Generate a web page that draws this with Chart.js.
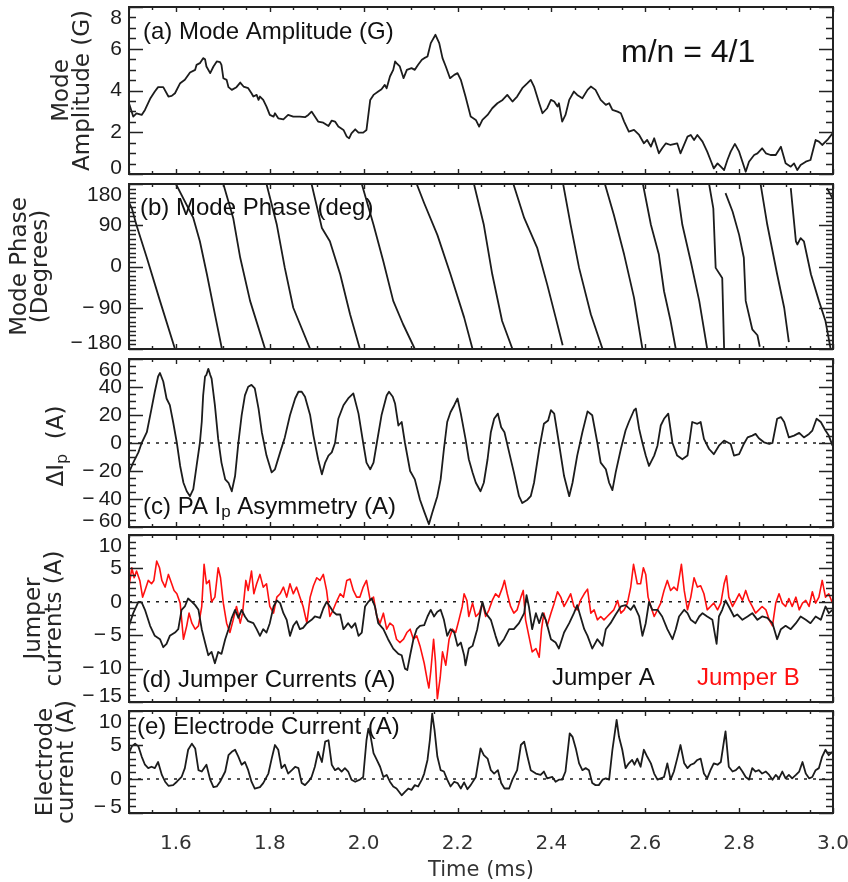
<!DOCTYPE html>
<html>
<head>
<meta charset="utf-8">
<script src="https://cdn.jsdelivr.net/npm/chart.js@4.4.1/dist/chart.umd.min.js"></script>
<style>
  html, body { margin: 0; padding: 0; background: #fff; }
  #wrap { width: 848px; height: 882px; }
</style>
</head>
<body>
<div id="wrap"><canvas id="chart" width="848" height="882"></canvas></div>
<script>
// ---- data (time in ms) ----
const timeMin = 1.5, timeMax = 3.0;
const xTicks = [1.6, 1.8, 2.0, 2.2, 2.4, 2.6, 2.8, 3.0];

// (a) mode amplitude, G
const ampTicks = [0, 2, 4, 6, 8];
const ampTime = [
  1.500,1.509,1.516,1.527,1.534,1.545,1.555,1.562,1.573,1.584,
  1.591,1.598,1.609,1.619,1.630,1.641,1.644,1.651,1.658,1.662,
  1.665,1.673,1.680,1.687,1.694,1.697,1.701,1.708,1.712,1.719,
  1.729,1.737,1.744,1.754,1.761,1.765,1.772,1.776,1.779,1.786,
  1.793,1.800,1.808,1.811,1.818,1.829,1.839,1.850,1.864,1.875,
  1.882,1.889,1.896,1.903,1.914,1.925,1.932,1.939,1.946,1.957,
  1.964,1.969,1.974,1.982,1.989,1.999,2.006,2.014,2.021,2.031,
  2.038,2.045,2.049,2.056,2.063,2.067,2.070,2.077,2.085,2.092,
  2.102,2.109,2.116,2.124,2.129,2.136,2.143,2.153,2.161,2.168,
  2.175,2.184,2.193,2.200,2.207,2.217,2.228,2.239,2.246,2.253,
  2.264,2.274,2.285,2.296,2.306,2.317,2.327,2.338,2.349,2.356,
  2.363,2.374,2.381,2.391,2.399,2.406,2.413,2.416,2.423,2.430,
  2.438,2.448,2.455,2.466,2.477,2.484,2.494,2.505,2.516,2.523,
  2.530,2.541,2.548,2.555,2.565,2.576,2.587,2.597,2.604,2.612,
  2.619,2.629,2.636,2.644,2.654,2.668,2.675,2.690,2.697,2.704,
  2.711,2.722,2.732,2.739,2.746,2.754,2.761,2.768,2.775,2.782,
  2.791,2.800,2.807,2.814,2.821,2.832,2.839,2.849,2.857,2.867,
  2.878,2.889,2.899,2.910,2.917,2.924,2.931,2.942,2.952,2.963,
  2.970,2.977,2.988,2.999];
const ampGauss = [
  3.39,2.75,2.90,2.83,3.07,3.60,3.95,4.16,4.16,3.71,
  3.74,3.87,4.35,4.51,4.86,4.99,5.23,5.31,5.55,5.50,
  5.15,4.83,5.15,5.39,5.36,5.23,4.59,4.51,4.16,4.03,
  4.16,4.38,4.19,4.11,3.87,3.71,3.79,3.55,3.71,3.55,
  3.23,2.83,2.75,2.91,2.67,2.62,2.83,2.75,2.75,2.72,
  2.83,2.99,2.75,2.51,2.46,2.30,2.56,2.51,2.27,2.11,
  1.79,1.71,1.95,2.14,1.98,1.98,2.11,3.55,3.79,3.95,
  4.06,4.27,4.11,4.67,4.99,5.39,5.31,5.15,4.59,4.99,
  5.07,4.99,5.23,5.47,5.55,5.63,6.27,6.67,6.27,5.55,
  5.15,4.59,4.75,4.83,4.51,3.71,2.75,2.59,2.27,2.59,
  2.83,3.15,3.39,3.55,3.79,3.47,3.71,4.11,4.35,4.51,
  4.19,3.39,2.91,3.15,3.55,3.47,3.23,3.39,2.51,2.83,
  3.55,3.95,3.79,3.63,4.03,4.19,4.03,3.55,3.31,3.39,
  3.07,2.99,2.91,2.51,2.03,2.11,1.87,1.47,1.63,1.31,
  1.71,0.99,1.23,1.47,1.39,1.47,0.99,1.79,1.87,1.63,
  1.87,1.55,1.07,0.67,0.27,0.51,0.35,0.19,0.67,1.07,
  1.44,1.07,0.59,0.11,0.59,0.91,0.99,1.23,0.99,0.91,
  0.91,1.31,0.51,0.35,0.51,0.19,0.43,0.59,0.67,1.63,
  1.55,1.39,1.63,1.95];

// (b) mode phase, degrees (null = wrap from -180 back to +180)
const phaseTicks = [-180, -90, 0, 90, 180];
const phaseTime = [
  1.500,1.506,1.516,1.538,1.566,1.598, 1.599,
  1.600,1.637,1.651,1.666,1.683,1.698, 1.700,
  1.701,1.722,1.737,1.758,1.790, 1.791,
  1.793,1.815,1.832,1.850,1.886, 1.887,
  1.889,1.911,1.928,1.950,1.971,1.992, 1.994,
  1.996,2.021,2.042,2.063,2.084,2.109, 2.111,
  2.113,2.129,2.157,2.185,2.214,2.232, 2.233,
  2.235,2.256,2.274,2.295,2.317, 2.318,
  2.319,2.342,2.370,2.391,2.409,2.424, 2.4245,
  2.425,2.441,2.459,2.484,2.509, 2.511,
  2.514,2.533,2.555,2.576,2.594, 2.5945,
  2.595,2.612,2.629,2.640,2.654,2.665, 2.666,
  2.668,2.679,2.697,2.715,2.732, 2.734,
  2.736,2.745,2.750,2.764,2.768, 2.769,
  2.771,2.786,2.800,2.810,2.814,2.828,2.839,2.844, 2.845,
  2.846,2.860,2.881,2.896,2.906, 2.908,
  2.910,2.921,2.924,2.931,2.938,2.953,2.970,2.984,2.995, 2.996,
  2.987,2.999];
const phaseDeg = [
  140,127,90,19,-75,-180, null,
  180,106,55,-17,-104,-180, null,
  180,106,19,-75,-180, null,
  180,91,-3,-90,-180, null,
  180,84,55,-17,-104,-180, null,
  180,91,11,-75,-126,-180, null,
  180,138,69,-17,-111,-180, null,
  180,91,-17,-119,-180, null,
  180,106,40,-39,-111,-172, null,
  180,91,-3,-104,-180, null,
  180,113,26,-68,-180, null,
  180,91,26,-54,-119,-180, null,
  170,91,11,-75,-180, null,
  180,127,-3,-25,-180, null,
  160,120,69,19,-75,-137,-150,-175, null,
  178,91,-17,-90,-165, null,
  171,55,48,62,55,-17,-75,-119,-180, null,
  171,149];

// (c) PA Ip asymmetry, A
const ipTicks = [-60, -40, -20, 0, 20, 40, 60];
const ipTime = [
  1.500,1.509,1.520,1.527,1.538,1.548,1.555,1.562,1.566,1.573,
  1.580,1.587,1.594,1.602,1.609,1.616,1.623,1.630,1.637,1.644,
  1.651,1.655,1.658,1.662,1.665,1.669,1.673,1.676,1.683,1.690,
  1.697,1.705,1.712,1.719,1.726,1.733,1.740,1.747,1.754,1.761,
  1.768,1.776,1.783,1.793,1.804,1.811,1.822,1.832,1.843,1.854,
  1.861,1.868,1.875,1.886,1.893,1.903,1.911,1.918,1.925,1.932,
  1.939,1.946,1.957,1.967,1.978,1.989,1.999,2.006,2.014,2.021,
  2.028,2.038,2.049,2.054,2.062,2.067,2.074,2.081,2.088,2.099,
  2.109,2.120,2.129,2.139,2.146,2.157,2.164,2.171,2.178,2.185,
  2.193,2.200,2.207,2.217,2.224,2.232,2.239,2.249,2.256,2.264,
  2.271,2.278,2.286,2.293,2.300,2.310,2.320,2.331,2.338,2.349,
  2.356,2.363,2.374,2.384,2.393,2.399,2.406,2.416,2.427,2.438,
  2.445,2.455,2.466,2.477,2.487,2.498,2.505,2.516,2.523,2.530,
  2.537,2.548,2.558,2.565,2.576,2.580,2.587,2.594,2.601,2.608,
  2.619,2.626,2.633,2.640,2.649,2.658,2.668,2.679,2.690,2.700,
  2.711,2.718,2.725,2.736,2.746,2.757,2.768,2.775,2.782,2.789,
  2.800,2.810,2.818,2.828,2.835,2.842,2.853,2.864,2.871,2.881,
  2.889,2.896,2.906,2.917,2.928,2.938,2.949,2.956,2.965,2.974,
  2.984,2.991,2.999];
const ipAmps = [
  -21,-14,-6.7,0,7.7,24.6,36.6,47.5,50,43.9,
  31.8,27,15,0,-16.4,-28.4,-34.5,-38,-33,-16.4,
  0,15,34,47.5,48.7,53,48.7,46,27,2.9,
  -14,-26,-28.4,-34.5,-23.6,0,19.8,34,40.2,41.5,
  39,24.6,7.7,-9,-21,-18.8,-6.7,4,19.8,31.8,
  36.6,36.6,33,19.8,5.3,-11.6,-22.4,-14,-9,-6.7,
  0,17.3,27,31.8,35.4,21,0,-14,-18.8,-14,
  0,19.8,34,36.6,33,28,12.5,15,0,-20,
  -26,-40.5,-49,-58,-50,-38,-26,-4.3,15,22,
  27,31.8,21,2.9,-11.6,-21,-28.4,-34.5,-28.4,-11.6,
  7.7,17.3,21,11.3,7.7,-6.7,-21,-38,-42.9,-40.5,
  -38,-28.4,-4.3,13.7,16.1,23.4,21,0,-23.6,-38,
  -28.4,-9,7.7,22.6,19.8,0,-14,-18.8,-28.4,-33.7,
  -21,-4.3,8.9,15,23.4,24.6,10,0,-9,-16.4,
  -9,-1.9,12.5,17.3,21,0,-9,-11.6,-9,15,
  13.7,15,2.9,-4.3,-8,-1.9,1.7,0.5,-0.7,-9,
  -8,-0.7,4,5.3,6.5,3.4,0.5,-0.7,0,17.3,
  18.5,15,4,5.3,7.2,4,6.5,8.9,17.3,15,
  8.9,5.3,-1.9];

// (d) jumper currents, A
const jumperTicks = [-15, -10, -5, 0, 5, 10];
const jumperATime = [
  1.500,1.509,1.520,1.527,1.534,1.545,1.555,1.566,1.573,1.580,
  1.587,1.598,1.605,1.612,1.619,1.626,1.634,1.641,1.648,1.655,
  1.662,1.669,1.676,1.683,1.690,1.697,1.705,1.712,1.719,1.726,
  1.733,1.740,1.747,1.754,1.765,1.772,1.779,1.786,1.793,1.800,
  1.808,1.815,1.822,1.829,1.836,1.843,1.850,1.857,1.864,1.871,
  1.879,1.889,1.896,1.907,1.914,1.921,1.928,1.935,1.942,1.950,
  1.957,1.967,1.974,1.982,1.989,1.996,2.003,2.010,2.017,2.024,
  2.031,2.042,2.052,2.063,2.074,2.081,2.088,2.093,2.099,2.106,
  2.113,2.120,2.129,2.136,2.143,2.150,2.157,2.164,2.171,2.178,
  2.185,2.193,2.200,2.207,2.214,2.217,2.224,2.232,2.242,2.253,
  2.260,2.271,2.281,2.288,2.299,2.310,2.320,2.331,2.342,2.347,
  2.352,2.359,2.367,2.374,2.381,2.388,2.399,2.409,2.416,2.427,
  2.438,2.448,2.455,2.462,2.470,2.477,2.487,2.498,2.509,2.516,
  2.526,2.537,2.548,2.558,2.569,2.576,2.587,2.594,2.601,2.608,
  2.615,2.626,2.636,2.647,2.658,2.665,2.672,2.683,2.690,2.697,
  2.707,2.715,2.722,2.732,2.743,2.752,2.757,2.764,2.771,2.778,
  2.789,2.796,2.807,2.818,2.828,2.839,2.849,2.860,2.871,2.881,
  2.889,2.899,2.910,2.921,2.931,2.942,2.952,2.963,2.974,2.984,
  2.991,2.999];
const jumperA = [
  -3.6,-1.7,0,-0.1,-1.2,-3.6,-5.1,-5.6,-6.8,-6.3,
  -5.1,-4.6,-4.1,-1.2,-0.7,0.5,0,-0.5,-1.2,-4.1,
  -6.1,-8,-7.5,-9.2,-7.5,-7.8,-5.6,-4.1,-2.4,-1.2,
  -2.4,-1.2,-2.2,-2.9,-3.2,-4.1,-5.1,-4.1,-4.6,-3.2,
  -0.7,0.2,-0.2,-1.7,-2.7,-5.1,-3.6,-2.9,-4.1,-3.9,
  -3.2,-2.7,-2.2,-2.4,-1.0,0,-0.7,-1.5,-1.9,-1.9,
  -4.1,-3.2,-3.9,-3.2,-5.1,-4.6,-0.7,0,0.5,-0.7,
  -3.2,-4.1,-5.6,-7,-7.8,-8,-10,-10.2,-8,-5.6,
  -4.1,-3.6,-3.5,-2.2,-1.2,-2.2,-1.5,-1.2,-2.7,-5.1,
  -4.1,-4.6,-6.6,-6.1,-8,-9.5,-7,-6.6,-4.1,0,
  -1.7,-2.7,-5.1,-6.6,-5.6,-4.1,-4.1,-3.2,-1.7,1,
  -0.7,-4.1,-1.7,-3.2,-1.7,-2.7,-5.6,-6.1,-7,-4.6,
  -3.2,-1.7,-0.5,-2.2,-4.1,-5.1,-7,-5.6,-6.6,-4.1,
  -3.2,-1.9,-0.7,-0.5,-1.2,-0.5,-2.2,-5.1,-3.2,0,
  -1.2,-1.2,-2.2,-4.1,-5.6,-4.1,-2.2,-1.2,-1.7,-2.7,
  -3.2,-2.2,-1.7,-2.2,-2.7,-6.3,-2.2,-1.2,0.2,-0.7,
  -2.2,-1.9,-2.7,-2.2,-1.7,-2.7,-2.2,-2.4,-3.2,-5.6,
  -4.1,-3.6,-4.1,-3.2,-2.2,-2.7,-3.2,-2.2,-2.7,-0.7,
  -1.7,-1.2];
const jumperBTime = [
  1.500,1.506,1.511,1.516,1.523,1.529,1.534,1.541,1.548,1.553,
  1.559,1.565,1.570,1.577,1.584,1.591,1.596,1.602,1.609,1.616,
  1.623,1.628,1.634,1.641,1.648,1.655,1.660,1.665,1.671,1.676,
  1.683,1.690,1.695,1.701,1.708,1.715,1.722,1.729,1.737,1.742,
  1.749,1.754,1.761,1.766,1.772,1.779,1.786,1.793,1.800,1.808,
  1.815,1.822,1.829,1.836,1.843,1.850,1.857,1.864,1.871,1.879,
  1.886,1.893,1.900,1.907,1.914,1.921,1.928,1.935,1.942,1.950,
  1.957,1.964,1.971,1.978,1.985,1.992,1.999,2.006,2.014,2.021,
  2.028,2.035,2.042,2.049,2.056,2.063,2.070,2.077,2.085,2.092,
  2.099,2.106,2.113,2.120,2.129,2.136,2.139,2.143,2.149,2.153,
  2.157,2.163,2.168,2.175,2.182,2.189,2.196,2.203,2.210,2.214,
  2.220,2.224,2.232,2.239,2.246,2.253,2.260,2.267,2.274,2.281,
  2.288,2.296,2.300,2.306,2.313,2.320,2.327,2.335,2.340,2.345,
  2.352,2.359,2.367,2.374,2.379,2.384,2.391,2.399,2.406,2.413,
  2.420,2.427,2.434,2.441,2.448,2.455,2.462,2.470,2.477,2.484,
  2.491,2.498,2.505,2.512,2.519,2.526,2.533,2.541,2.548,2.555,
  2.562,2.569,2.575,2.583,2.590,2.596,2.601,2.606,2.612,2.619,
  2.626,2.633,2.640,2.647,2.654,2.661,2.668,2.677,2.683,2.690,
  2.697,2.704,2.711,2.718,2.725,2.732,2.739,2.746,2.754,2.761,
  2.768,2.773,2.778,2.786,2.793,2.800,2.807,2.814,2.821,2.828,
  2.835,2.842,2.849,2.857,2.864,2.871,2.878,2.885,2.892,2.899,
  2.906,2.913,2.921,2.928,2.935,2.942,2.949,2.956,2.963,2.970,
  2.977,2.984,2.991,2.999];
const jumperB = [
  2.2,5.1,3.6,4.6,3.2,0.7,1.7,3.2,2.7,3.2,
  6.1,5.1,3.2,2.2,4.1,2.7,1.7,1.2,-0.2,-5.6,
  -3.6,-1.7,-3.2,-4.1,-3.6,-0.7,5.6,2.7,3.2,0,
  0.7,5.1,3.6,-0.2,-3.2,-4.6,-2.7,-0.7,-3.2,-1.7,
  3.2,1.7,4.6,1.2,2.7,4.1,2.2,2.7,-0.7,-1.7,
  0.7,1.2,2.2,0.7,2.7,1.2,2.2,0.7,-0.7,-3.2,
  0.7,2.4,3.6,3.2,4.1,1.7,-2.2,-1.2,0,1.2,
  0.7,3.2,3.4,1.7,0.7,0.7,2.2,3.2,0.2,0.7,
  -2.2,-3.2,-1.7,-4.1,-3.2,-3.6,-5.6,-6.1,-5.6,-4.6,
  -4.1,-5.6,-5.1,-6.6,-9.2,-11.9,-12.9,-10.4,-5.6,-9,
  -14.5,-11.4,-7.5,-9.5,-5.6,-4.1,-4.6,-2.7,-0.7,1.2,
  0.2,-2.2,-0.2,-2.2,-1.7,-0.2,-2.2,-1.2,0.2,1.2,
  0.7,2.2,3.2,1.2,-0.7,-1.7,-1.2,0.7,1.7,-2.7,
  -5.1,-7.5,-7,-8.3,-4.1,-1.7,-3.6,-1.7,-0.2,1.5,
  0.7,-0.7,0.2,1.2,-0.7,-1.2,0.2,1.2,1.9,-1.7,
  -1.2,-2.7,-2.2,-2.7,-2.2,-1.7,-1.2,0.2,-1.7,-1.2,
  -0.2,2.2,5.6,2.7,2.7,5.1,4.1,0.7,-0.7,-2.2,
  -1.2,-0.2,1.7,3.2,1.7,2.2,1.7,5.6,1.7,-1.2,
  0.7,3.6,2.2,2.4,1.2,-1.2,-0.7,-0.2,-1.2,-0.2,
  2.7,3.9,0.7,-0.7,0.2,1.2,0.2,1.7,0.2,-0.7,
  -1.7,-1.2,-0.7,-1.2,-2.7,-3.6,-0.2,1.2,-0.2,-0.7,
  0.5,-0.7,0.7,-1.2,-0.2,0.2,-0.7,1.5,-0.2,0.7,
  3.2,0.7,1.2,-0.2];

// (e) electrode current, A
const electrodeTicks = [-5, 0, 5, 10];
const electrodeTime = [
  1.500,1.506,1.513,1.520,1.527,1.534,1.541,1.548,1.555,1.562,
  1.570,1.577,1.584,1.594,1.602,1.612,1.619,1.626,1.634,1.641,
  1.648,1.655,1.665,1.673,1.680,1.687,1.694,1.705,1.712,1.719,
  1.726,1.733,1.740,1.747,1.754,1.761,1.768,1.779,1.786,1.797,
  1.804,1.811,1.818,1.825,1.832,1.839,1.847,1.854,1.861,1.868,
  1.875,1.882,1.889,1.896,1.903,1.911,1.918,1.925,1.932,1.939,
  1.946,1.953,1.960,1.967,1.974,1.982,1.992,1.999,2.006,2.010,
  2.015,2.021,2.028,2.035,2.042,2.049,2.056,2.063,2.070,2.081,
  2.088,2.095,2.102,2.109,2.116,2.124,2.129,2.136,2.141,2.146,
  2.151,2.157,2.164,2.171,2.178,2.185,2.193,2.200,2.207,2.214,
  2.221,2.228,2.239,2.249,2.256,2.264,2.271,2.278,2.286,2.293,
  2.300,2.310,2.317,2.327,2.335,2.342,2.349,2.356,2.367,2.377,
  2.384,2.391,2.402,2.409,2.416,2.423,2.430,2.439,2.445,2.452,
  2.459,2.466,2.473,2.480,2.487,2.494,2.501,2.509,2.516,2.523,
  2.530,2.539,2.544,2.551,2.558,2.565,2.572,2.577,2.583,2.590,
  2.597,2.604,2.612,2.619,2.626,2.633,2.640,2.647,2.654,2.661,
  2.668,2.675,2.683,2.690,2.697,2.704,2.711,2.718,2.725,2.732,
  2.739,2.746,2.754,2.761,2.768,2.771,2.778,2.786,2.793,2.800,
  2.807,2.814,2.821,2.828,2.835,2.842,2.849,2.857,2.864,2.871,
  2.878,2.885,2.892,2.899,2.906,2.913,2.921,2.928,2.935,2.942,
  2.949,2.956,2.963,2.970,2.977,2.984,2.991,2.999];
const electrodeAmps = [
  3.8,4.8,5.2,4.8,3.3,2.1,1.6,1.8,1.6,2.5,
  0.6,-0.4,-1.0,-0.9,-0.4,0.3,1.6,4.3,5.2,4.5,
  1.3,1.1,2.1,-0.1,-1.2,-1.1,-0.4,1.1,3.5,4.0,
  4.3,3.3,2.1,2.5,1.3,-0.4,-1.4,-1.2,-0.6,0.8,
  3.0,5.0,4.3,1.6,2.1,0.8,1.3,1.8,1.6,-0.6,
  -0.9,-0.4,0.3,1.8,4.0,2.5,5.5,5.7,2.1,1.3,
  1.6,1.1,1.6,1.1,-0.1,-0.4,-0.1,0.3,5.7,7.4,
  6.2,3.8,2.8,1.8,0.3,0.6,-0.4,-1.1,-1.4,-2.4,
  -1.9,-1.4,-1.6,-0.9,-1.1,-0.1,0.8,2.8,5.7,9.6,
  7.2,3.3,1.3,1.1,-0.1,-1.1,-0.4,-0.6,-1.4,-0.5,
  -1.5,-0.9,0.3,4.5,3.5,3.0,1.3,0.8,1.3,-0.6,
  -1.4,-1.4,-0.1,1.3,5.0,5.5,3.3,1.3,0.8,0.6,
  1.1,0.1,0.3,-0.4,-0.1,-0.1,1.1,6.7,6.2,4.5,
  2.3,1.3,1.6,1.3,-0.6,-0.9,-0.9,-0.1,0.1,-0.1,
  4.3,8.7,6.2,4.3,1.6,2.3,2.8,2.1,3.0,1.8,
  4.3,3.3,2.3,0.8,-0.1,0.1,0.3,2.3,-0.1,1.1,
  3.0,5.0,2.3,1.6,2.1,2.3,2.8,3.0,0.8,0.1,
  1.3,2.3,2.1,2.5,5.7,7.0,1.8,1.1,1.3,1.8,
  1.1,0.3,-0.1,1.6,1.1,1.3,0.8,1.1,0.6,-0.1,
  0.6,0.1,1.1,0.1,0.6,0.1,0.6,1.1,2.5,0.8,
  0.1,0.3,1.3,1.6,3.3,4.3,3.5,4.0];

// ---- helpers ----
const ink = '#1c1c1c';
const red = '#ff1010';

function pts(ts, vs) {
  const n = Math.min(ts.length, vs.length);
  const out = [];
  for (let i = 0; i < n; i++) out.push({x: ts[i], y: vs[i]});
  return out;
}

function trace(data, axis, color, width) {
  return {data, yAxisID: axis, borderColor: color, borderWidth: width || 1.8,
    pointRadius: 0, fill: false, tension: 0, spanGaps: false, borderJoinStyle: 'round'};
}

function zeroLine(axis) {
  return {data: [{x: timeMin, y: 0}, {x: timeMax, y: 0}], yAxisID: axis,
    borderColor: ink, borderWidth: 1.6, borderDash: [3, 6], pointRadius: 0, fill: false};
}

function yAxis(min, max, weight, ticks, title, pad) {
  return {
    type: 'linear', position: 'left', stack: 'panels', stackWeight: weight,
    min: min, max: max,
    afterBuildTicks: s => { s.ticks = ticks.map(v => ({value: v})); },
    afterFit: s => { s.width = 129; },
    ticks: {display: false},
    grid: {display: false},
    border: {display: false},
    title: title ? {display: true, text: title, color: '#262626',
      font: {family: 'DejaVu Sans', size: 23, lineHeight: '21px'},
      padding: {top: pad, bottom: 0}} : {display: false}
  };
}

function spacer(weight) {
  return {type: 'linear', position: 'left', stack: 'panels', stackWeight: weight,
    min: 0, max: 1, afterFit: s => { s.width = 129; },
    ticks: {display: false}, grid: {display: false}, border: {display: false}};
}

const panels = [
  {id: 'ya', minor: 0.5},
  {id: 'yb', minor: 10},
  {id: 'yc', minor: 5},
  {id: 'yd', minor: 1},
  {id: 'ye', minor: 1}
];

function fmt(v) { return v < 0 ? '\u2212\u2009' + Math.abs(v) : String(v); }

// frames with inward ticks, tick labels and in-panel annotations
const framePlugin = {
  id: 'frames',
  afterDraw(chart) {
    const ctx = chart.ctx;
    const xs = chart.scales.x;
    const left = chart.chartArea.left, right = chart.chartArea.right;
    ctx.save();
    ctx.strokeStyle = '#222';
    ctx.fillStyle = ink;
    panels.forEach(p => {
      const y = chart.scales[p.id];
      const top = y.top, bottom = y.bottom;
      ctx.lineWidth = 1.4;
      ctx.beginPath();
      for (let k = Math.ceil(y.min / p.minor - 1e-9); k * p.minor <= y.max + 1e-9; k++) {
        const v = k * p.minor;
        const py = Math.round(y.getPixelForValue(v)) + 0.5;
        const major = y.ticks.some(t => Math.abs(t.value - v) < 1e-6);
        const len = major ? 14 : 7;
        ctx.moveTo(left, py); ctx.lineTo(left + len, py);
        ctx.moveTo(right, py); ctx.lineTo(right - len, py);
      }
      for (let k = Math.round(timeMin / 0.05); k * 0.05 <= timeMax + 1e-9; k++) {
        const v = k * 0.05;
        const px = Math.round(xs.getPixelForValue(v)) + 0.5;
        const major = xTicks.some(t => Math.abs(t - v) < 1e-6);
        const len = major ? 5 : 3;
        ctx.moveTo(px, top); ctx.lineTo(px, top + len);
        ctx.moveTo(px, bottom); ctx.lineTo(px, bottom - len);
      }
      ctx.stroke();
      ctx.lineWidth = 2;
      ctx.strokeRect(left, top, right - left, bottom - top);

      ctx.font = '21px "Liberation Sans"';
      ctx.textAlign = 'right';
      ctx.textBaseline = 'middle';
      y.ticks.forEach(t => {
        const py = Math.min(Math.max(y.getPixelForValue(t.value), top + 11), bottom - 6);
        ctx.fillText(fmt(t.value), left - 7, py);
      });
    });

    const sa = chart.scales.ya, sb = chart.scales.yb, sc = chart.scales.yc,
          sd = chart.scales.yd, se = chart.scales.ye;
    ctx.textAlign = 'left';
    ctx.textBaseline = 'middle';
    ctx.fillStyle = '#111';
    ctx.font = '24px "Liberation Sans"';
    ctx.fillText('(a) Mode Amplitude (G)', left + 14, sa.top + 25);
    ctx.fillText('(b) Mode Phase (deg)', left + 11, sb.top + 24);
    // (c) with subscript p
    let cx = left + 14;
    const cy = sc.bottom - 20;
    ctx.fillText('(c) PA I', cx, cy);
    cx += ctx.measureText('(c) PA I').width;
    ctx.font = '17px "Liberation Sans"';
    ctx.fillText('p', cx, cy + 5);
    cx += ctx.measureText('p').width;
    ctx.font = '24px "Liberation Sans"';
    ctx.fillText(' Asymmetry (A)', cx, cy);
    ctx.fillText('(d) Jumper Currents (A)', left + 13, sd.bottom - 22);
    ctx.fillText('Jumper A', 552, sd.bottom - 24);
    ctx.fillStyle = red;
    ctx.fillText('Jumper B', 697, sd.bottom - 24);
    ctx.fillStyle = '#111';
    ctx.fillText('(e) Electrode Current (A)', left + 8, se.top + 16);
    ctx.font = '32px "Liberation Sans"';
    ctx.fillText('m/n = 4/1', 621, sa.top + 46);

    // rotated axis title for (c): ΔIp (A)
    ctx.save();
    ctx.translate(57, (sc.top + sc.bottom) / 2 + 3);
    ctx.rotate(-Math.PI / 2);
    ctx.fillStyle = '#262626';
    const big = '23px "DejaVu Sans"', small = '16px "DejaVu Sans"';
    ctx.font = big; const w1 = ctx.measureText('\u0394I').width;
    ctx.font = small; const w2 = ctx.measureText('p').width;
    ctx.font = big; const w3 = ctx.measureText('  (A)').width;
    let tx = -(w1 + w2 + w3) / 2;
    ctx.textAlign = 'left';
    ctx.font = big; ctx.fillText('\u0394I', tx, 0); tx += w1;
    ctx.font = small; ctx.fillText('p', tx, 6); tx += w2;
    ctx.font = big; ctx.fillText('  (A)', tx, 0);
    ctx.restore();

    ctx.restore();
  }
};

new Chart(document.getElementById('chart'), {
  type: 'line',
  data: {
    datasets: [
      trace(pts(ampTime, ampGauss), 'ya', ink),
      trace(pts(phaseTime, phaseDeg), 'yb', ink),
      trace(pts(ipTime, ipAmps), 'yc', ink),
      trace(pts(jumperATime, jumperA), 'yd', ink),
      trace(pts(jumperBTime, jumperB), 'yd', red, 1.6),
      trace(pts(electrodeTime, electrodeAmps), 'ye', ink),
      zeroLine('yc'),
      zeroLine('yd'),
      zeroLine('ye')
    ]
  },
  options: {
    responsive: false,
    devicePixelRatio: 1,
    animation: false,
    events: [],
    layout: {padding: {left: 0, right: 15, top: 7, bottom: 0}},
    plugins: {legend: {display: false}, tooltip: {enabled: false}},
    scales: {
      x: {
        type: 'linear', position: 'bottom', min: timeMin, max: timeMax,
        afterBuildTicks: s => { s.ticks = xTicks.map(v => ({value: v})); },
        afterFit: s => { s.height = 69; s.paddingLeft = 0; s.paddingRight = 0; },
        ticks: {callback: v => v.toFixed(1), color: '#333', padding: 19,
          maxRotation: 0, autoSkip: false, font: {family: 'DejaVu Sans', size: 20}},
        grid: {display: false, drawTicks: false},
        border: {display: false},
        title: {display: true, text: 'Time (ms)', color: '#333',
          font: {family: 'DejaVu Sans', size: 21, lineHeight: 1.1}, padding: {top: 0, bottom: 0}}
      },
      // stacked left axes are laid out bottom-up, so the bottom panel comes first
      ye: yAxis(-5, 10, 102, electrodeTicks, ['Electrode', 'current (A)'], 36),
      g4: spacer(9),
      yd: yAxis(-15, 10, 167, jumperTicks, ['Jumper', 'currents (A)'], 24),
      g3: spacer(8),
      yc: yAxis(-60, 60, 168, ipTicks, null, 0),
      g2: spacer(10),
      yb: yAxis(-180, 180, 165, phaseTicks, ['Mode Phase', '(Degrees)'], 10),
      g1: spacer(10),
      ya: yAxis(0, 8, 167, ampTicks, ['Mode', 'Amplitude (G)'], 52)
    }
  },
  plugins: [framePlugin]
});
</script>
</body>
</html>
